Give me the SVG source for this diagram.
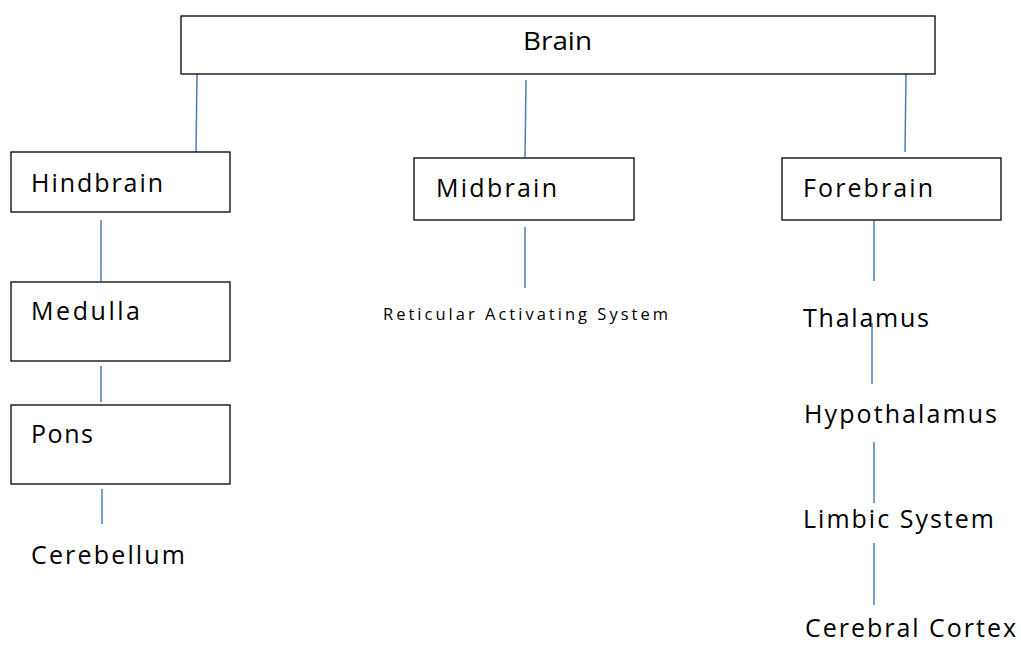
<svg xmlns="http://www.w3.org/2000/svg" width="1021" height="647" viewBox="0 0 1021 647">
<style>
.box{fill:#fff;stroke:#000;stroke-width:1.3}
.t{font-family:"Open Sans","Noto Sans","DejaVu Sans",sans-serif;font-size:25px;fill:#000}
.s{font-family:"Open Sans","Noto Sans","DejaVu Sans",sans-serif;font-size:16.5px;fill:#000}
.c line{stroke:#4a7ebb;stroke-width:1.5}
</style>
<rect width="1021" height="647" fill="#fff"/>
<g class="c" id="connectors">
<line x1="197" y1="74" x2="196" y2="152"/>
<line x1="526" y1="80" x2="525" y2="157"/>
<line x1="906" y1="74" x2="905" y2="152"/>
<line x1="101" y1="220" x2="101" y2="281"/>
<line x1="101" y1="366" x2="101" y2="402"/>
<line x1="102" y1="489" x2="102" y2="524"/>
<line x1="525" y1="227" x2="525" y2="288"/>
<line x1="874" y1="220" x2="874" y2="281"/>
<line x1="872" y1="323" x2="872" y2="384"/>
<line x1="874" y1="442" x2="874" y2="503"/>
<line x1="874" y1="543" x2="874" y2="605"/>
</g>
<g id="brain"><rect class="box" x="181" y="16" width="754" height="58"/><text class="t" x="523" y="50" textLength="69" lengthAdjust="spacingAndGlyphs">Brain</text></g>
<g id="hindbrain"><rect class="box" x="11" y="152" width="219" height="60"/><text class="t" x="31" y="192" textLength="132" lengthAdjust="spacing">Hindbrain</text></g>
<g id="medulla"><rect class="box" x="11" y="282" width="219" height="79"/><text class="t" x="31" y="320" textLength="109" lengthAdjust="spacing">Medulla</text></g>
<g id="pons"><rect class="box" x="11" y="405" width="219" height="79"/><text class="t" x="31" y="443" textLength="62" lengthAdjust="spacing">Pons</text></g>
<g id="cerebellum"><text class="t" x="31" y="564" textLength="154" lengthAdjust="spacing">Cerebellum</text></g>
<g id="midbrain"><rect class="box" x="414" y="158" width="220" height="62"/><text class="t" x="436" y="197" textLength="121" lengthAdjust="spacing">Midbrain</text></g>
<g id="ras"><text class="s" x="383" y="320" textLength="285" lengthAdjust="spacing">Reticular Activating System</text></g>
<g id="forebrain"><rect class="box" x="782" y="158" width="219" height="62"/><text class="t" x="803" y="197" textLength="130" lengthAdjust="spacing">Forebrain</text></g>
<g id="thalamus"><text class="t" x="803" y="327" textLength="126" lengthAdjust="spacing">Thalamus</text></g>
<g id="hypothalamus"><text class="t" x="804" y="423" textLength="193" lengthAdjust="spacing">Hypothalamus</text></g>
<g id="limbic"><text class="t" x="803" y="528" textLength="191" lengthAdjust="spacing">Limbic System</text></g>
<g id="cortex"><text class="t" x="805" y="637" textLength="211" lengthAdjust="spacing">Cerebral Cortex</text></g>
</svg>
